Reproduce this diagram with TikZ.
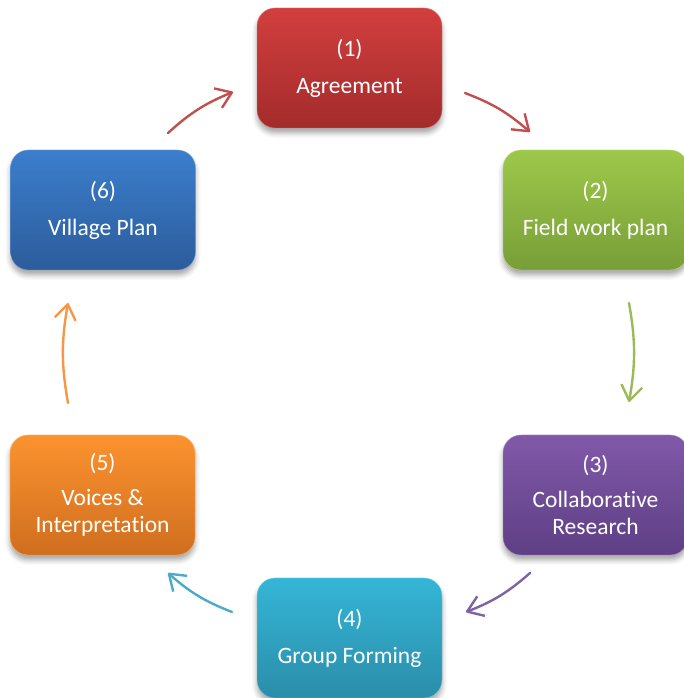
\documentclass[tikz,border=0pt]{standalone}
\usepackage{fontspec}
\setmainfont{Carlito}[Ligatures={NoCommon}]
\usetikzlibrary{arrows.meta,shadows.blur}

\definecolor{redtop}{HTML}{D13F3E}
\definecolor{redbot}{HTML}{A42B2B}
\definecolor{greentop}{HTML}{9EC84A}
\definecolor{greenbot}{HTML}{789E38}
\definecolor{purpletop}{HTML}{8159A9}
\definecolor{purplebot}{HTML}{5E3F85}
\definecolor{cyantop}{HTML}{35B6D7}
\definecolor{cyanbot}{HTML}{2A8DA9}
\definecolor{orangetop}{HTML}{FC932F}
\definecolor{orangebot}{HTML}{CF6E1F}
\definecolor{bluetop}{HTML}{3B7ECC}
\definecolor{bluebot}{HTML}{2C5C9B}
\definecolor{arrred}{HTML}{C0504D}
\definecolor{arrgreen}{HTML}{9BBB59}
\definecolor{arrpurple}{HTML}{8064A2}
\definecolor{arrcyan}{HTML}{4BACC6}
\definecolor{arrorange}{HTML}{F79646}

\begin{document}
\begin{tikzpicture}[x=1pt, y=1pt,
    stepbox/.style={rectangle, rounded corners=18pt, minimum width=185pt,
        minimum height=120pt, inner sep=0pt, align=center, text=white,
        font=\fontsize{23.5}{27}\selectfont,
        blur shadow={shadow xshift=0pt, shadow yshift=-5pt,
            shadow blur radius=5pt, shadow opacity=35}},
    flow/.style={line width=2.4pt, line cap=round, bend left=10,
        -{Straight Barb[length=15pt, width=21pt, line join=round]}}]
    \useasboundingbox (0,0) rectangle (683,698);
    \node[stepbox, top color=redtop, bottom color=redbot, draw=redtop!70!white] (agree) at (349.5,630) {(1)\\[10pt]Agreement};
    \node[stepbox, top color=greentop, bottom color=greenbot, draw=greentop!70!white] (field) at (595.5,488) {(2)\\[10pt]Field work plan};
    \node[stepbox, top color=purpletop, bottom color=purplebot, draw=purpletop!70!white] (research) at (595.5,203) {(3)\\[8pt]Collaborative\\Research};
    \node[stepbox, top color=cyantop, bottom color=cyanbot, draw=cyantop!70!white] (group) at (349.5,60) {(4)\\[10pt]Group Forming};
    \node[stepbox, top color=orangetop, bottom color=orangebot, draw=orangetop!70!white] (voices) at (102.5,203) {(5)\\[8pt]Voices \&\\Interpretation};
    \node[stepbox, top color=bluetop, bottom color=bluebot, draw=bluetop!70!white] (village) at (103,488) {(6)\\[10pt]Village Plan};
    % arrow ends
    \coordinate (agree-out) at (465,605);  \coordinate (field-in) at (530,566);
    \coordinate (field-out) at (629,395);  \coordinate (research-in) at (629,296);
    \coordinate (research-out) at (530,125); \coordinate (group-in) at (466,86);
    \coordinate (group-out) at (232,86);   \coordinate (voices-in) at (168,125);
    \coordinate (voices-out) at (68,295);  \coordinate (village-in) at (68,395);
    \coordinate (village-out) at (168,565); \coordinate (agree-in) at (233,606);
    \draw[flow, arrred] (agree-out) to (field-in);
    \draw[flow, arrgreen] (field-out) to (research-in);
    \draw[flow, arrpurple] (research-out) to (group-in);
    \draw[flow, arrcyan] (group-out) to (voices-in);
    \draw[flow, arrorange] (voices-out) to (village-in);
    \draw[flow, arrred] (village-out) to (agree-in);
\end{tikzpicture}
\end{document}
